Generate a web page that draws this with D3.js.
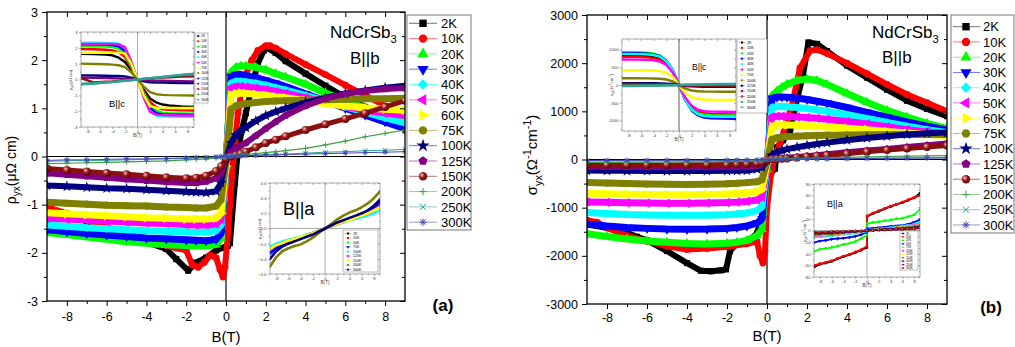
<!DOCTYPE html>
<html>
<head>
<meta charset="utf-8">
<script src="https://cdn.jsdelivr.net/npm/d3@7"></script>
<style>
body { margin: 0; background: #fff; }
svg { display: block; font-family: "Liberation Sans", Arial, sans-serif; }
</style>
</head>
<body>
<svg id="fig" width="1015" height="347"></svg>
<script>
// ---------- labels and ticks ----------
var temps = ["2K","10K","20K","30K","40K","50K","60K","75K","100K","125K","150K","200K","250K","300K"];
var tempsC = ["2K","10K","20K","30K","40K","50K","75K","100K","125K","150K","200K","250K","300K"];
var tempsRhoA = ["2K","20K","50K","75K","100K","125K","150K","200K","300K"];
var tempsSigA = ["2K","10K","20K","50K","75K","100K","125K","150K","200K","250K","300K"];

var fieldTicks = [-8,-6,-4,-2,0,2,4,6,8];
var rhoTicks = [-3,-2,-1,0,1,2,3];
var sigTicks = [-3000,-2000,-1000,0,1000,2000,3000];
var rhoATicks = [-0.6,-0.4,-0.2,0,0.2,0.4,0.6];
var sigCTicks = [-1000,-500,0,500,1000];
var sigATicks = [-80,-60,-40,-20,0,20,40,60,80];

// ---------- main panel (a): rho_yx, B||b ----------
var fieldB = [-9,-8,-7,-6,-5,-4,-3,-2,-1.5,-1,-0.5,-0.25,0,0.25,0.5,0.75,1,1.5,2,2.5,3,4,5,6,7,8,9];

var rhoB2K = [-9,-8,-7,-6,-5,-4,-3,-2.5,-1.9,-1.5,-1,-0.5,-0.2,0.1,0.2,0.3,0.45,0.6,0.8,1,1.3,1.6,1.9,2.1,2.5,3,4,5,6,7,8,9];
var rho2K = [-1.08,-1.2,-1.35,-1.5,-1.64,-1.78,-1.92,-2.13,-2.37,-2.2,-2.1,-1.95,-1.9,-1.85,-1.8,-1.27,-0.54,0.12,0.55,0.9,1.45,1.93,2.2,2.25,2.15,1.98,1.72,1.47,1.23,1.03,0.88,0.75];
var rhoB10K = [-9,-8,-7,-6,-5,-4,-3,-2.5,-2,-1.7,-1.4,-1.1,-0.8,-0.5,-0.3,-0.15,-0.05,0.1,0.2,0.3,0.45,0.6,0.8,1,1.3,1.6,2,2.2,2.5,3,4,5,6,7,8,9];
var rho10K = [-1.05,-1.18,-1.32,-1.46,-1.6,-1.73,-1.85,-1.9,-1.95,-2.25,-2.3,-2.2,-2.05,-2.1,-2.35,-2.5,-2.3,-1.6,-1.0,-0.4,0.3,0.9,1.4,1.7,2.0,2.2,2.3,2.3,2.25,2.13,1.91,1.7,1.48,1.27,1.05,0.84];

// 20K ... 300K on fieldB
var rhoBB = [
  [-1.58,-1.62,-1.67,-1.72,-1.77,-1.8,-1.83,-1.85,-1.86,-1.86,-1.83,-1.7,-0.2,1.75,1.85,1.88,1.88,1.85,1.8,1.72,1.65,1.5,1.32,1.16,1.0,0.87,0.75],
  [-1.52,-1.56,-1.6,-1.63,-1.66,-1.69,-1.71,-1.73,-1.74,-1.75,-1.72,-1.6,-0.2,1.66,1.7,1.7,1.68,1.64,1.58,1.52,1.45,1.3,1.15,1.0,0.86,0.72,0.58],
  [-1.42,-1.45,-1.48,-1.5,-1.52,-1.54,-1.55,-1.56,-1.57,-1.57,-1.54,-1.42,-0.2,1.52,1.56,1.56,1.55,1.52,1.48,1.43,1.38,1.27,1.15,1.03,0.92,0.8,0.7],
  [-1.28,-1.3,-1.32,-1.34,-1.36,-1.38,-1.39,-1.41,-1.42,-1.42,-1.4,-1.3,-0.2,1.42,1.45,1.45,1.44,1.42,1.39,1.35,1.31,1.22,1.13,1.04,0.96,0.9,0.85],
  [-1.17,-1.19,-1.21,-1.23,-1.25,-1.27,-1.28,-1.3,-1.3,-1.3,-1.28,-1.18,-0.2,1.28,1.31,1.32,1.31,1.29,1.27,1.24,1.22,1.16,1.1,1.05,1.01,0.98,0.96],
  [-0.95,-0.97,-0.99,-1.01,-1.02,-1.03,-1.05,-1.06,-1.07,-1.07,-1.03,-0.9,-0.1,0.98,1.05,1.08,1.1,1.12,1.14,1.15,1.16,1.17,1.18,1.19,1.2,1.2,1.21],
  [-0.6,-0.62,-0.64,-0.66,-0.67,-0.69,-0.71,-0.73,-0.74,-0.75,-0.72,-0.55,-0.05,0.28,0.45,0.54,0.6,0.74,0.85,0.93,1.0,1.12,1.22,1.31,1.37,1.43,1.47],
  [-0.35,-0.38,-0.41,-0.44,-0.47,-0.5,-0.53,-0.55,-0.55,-0.52,-0.45,-0.35,-0.05,0.1,0.18,0.23,0.28,0.43,0.58,0.72,0.85,1.05,1.2,1.3,1.36,1.4,1.42],
  [-0.25,-0.28,-0.31,-0.34,-0.37,-0.4,-0.43,-0.45,-0.44,-0.4,-0.3,-0.2,-0.05,0.0,0.03,0.06,0.1,0.19,0.28,0.35,0.42,0.55,0.67,0.78,0.9,1.03,1.16],
  [-0.15,-0.14,-0.13,-0.12,-0.11,-0.1,-0.09,-0.07,-0.06,-0.05,-0.03,-0.02,0,0.01,0.02,0.03,0.04,0.06,0.08,0.1,0.12,0.17,0.24,0.32,0.41,0.48,0.55],
  [-0.1,-0.09,-0.08,-0.08,-0.07,-0.06,-0.05,-0.04,-0.03,-0.02,-0.01,-0.01,0,0.01,0.01,0.02,0.02,0.03,0.04,0.05,0.05,0.07,0.09,0.1,0.12,0.13,0.15],
  [-0.08,-0.07,-0.07,-0.06,-0.05,-0.05,-0.04,-0.03,-0.02,-0.02,-0.01,0,0,0,0.01,0.01,0.02,0.02,0.03,0.03,0.04,0.05,0.06,0.07,0.08,0.09,0.1]
];

// ---------- main panel (b): sigma_yx, B||b ----------
var sigB2K = [-9,-8,-7,-6.5,-6,-5,-4,-3.3,-2.8,-2.3,-2.05,-1.85,-1.5,-1,-0.5,-0.17,0,0.17,0.4,0.5,0.8,1.15,1.5,1.8,2.07,2.5,3,4,5,6,7,8,9];
var sig2K = [-1350,-1420,-1520,-1605,-1680,-1900,-2150,-2310,-2320,-2300,-2280,-1900,-1740,-1710,-1536,-1050,-570,-290,-190,250,400,570,1250,1750,2430,2400,2250,1950,1700,1450,1220,1050,900];
var sigB10K = [-9,-8.5,-8,-7,-6,-5,-4,-3,-2,-1,-0.5,-0.35,-0.2,-0.1,0,0.2,0.4,0.65,1,1.3,1.65,2.15,2.5,3,4,5,6,7,8,9];
var sig10K = [-1260,-1300,-1420,-1580,-1700,-1800,-1870,-1850,-1810,-1750,-1700,-2000,-2150,-1900,-1000,-300,100,330,800,1220,1900,2260,2280,2200,2000,1780,1560,1350,1180,1000];

var sigBB = [
  [-1540,-1600,-1650,-1690,-1720,-1745,-1755,-1740,-1720,-1680,-1580,-1450,-200,1320,1420,1500,1560,1640,1670,1640,1560,1370,1190,1020,880,750,640],
  [-1340,-1380,-1410,-1430,-1445,-1450,-1445,-1430,-1410,-1380,-1320,-1230,-150,1270,1295,1300,1295,1275,1245,1210,1170,1080,980,880,780,690,610],
  [-1100,-1120,-1140,-1150,-1155,-1160,-1155,-1145,-1130,-1110,-1060,-980,-120,1080,1100,1100,1095,1080,1060,1030,1000,930,850,770,690,620,560],
  [-880,-890,-900,-905,-910,-910,-905,-895,-885,-870,-840,-780,-100,880,900,900,895,885,870,855,835,790,740,680,620,570,530],
  [-700,-710,-720,-725,-730,-730,-725,-715,-705,-695,-670,-620,-80,690,710,715,715,710,700,690,680,650,620,580,550,520,500],
  [-480,-490,-500,-510,-515,-520,-515,-505,-495,-480,-460,-420,-50,420,450,465,475,485,495,500,505,510,515,518,520,520,520],
  [-230,-233,-236,-238,-240,-240,-238,-235,-232,-228,-200,-160,-20,90,150,190,215,255,290,320,350,400,445,485,520,545,560],
  [-150,-152,-154,-155,-156,-156,-155,-153,-150,-145,-130,-100,-10,15,25,30,35,50,70,90,110,150,185,220,260,295,330],
  [-110,-111,-112,-112,-112,-110,-108,-105,-100,-95,-80,-60,-5,5,10,15,20,40,60,75,90,120,160,195,230,260,290],
  [-60,-58,-56,-54,-52,-50,-47,-44,-41,-38,-30,-20,0,5,8,10,12,18,24,30,35,45,55,62,70,75,80],
  [-30,-29,-28,-27,-26,-25,-23,-21,-19,-17,-12,-8,0,3,5,6,7,10,13,16,18,24,28,32,35,38,40],
  [-20,-19,-18,-17,-16,-15,-14,-13,-12,-10,-7,-5,0,2,3,4,5,7,9,11,13,17,20,23,26,28,30]
];

// ---------- insets ----------
var fieldC = [-9,-7,-5,-4,-3,-2,-1,-0.5,0,0.5,1,2,3,4,5,7,9];
var rhoC = [
  [1.62,1.61,1.58,1.52,1.38,1.1,0.6,0.3,0,-0.3,-0.65,-1.2,-1.45,-1.58,-1.64,-1.7,-1.73],
  [1.92,1.91,1.88,1.84,1.72,1.42,0.75,0.38,0,-0.38,-0.75,-1.42,-1.75,-1.88,-1.92,-1.95,-1.96],
  [2.1,2.1,2.08,2.05,1.95,1.6,0.85,0.42,0,-0.42,-0.85,-1.62,-1.98,-2.1,-2.13,-2.15,-2.16],
  [2.22,2.22,2.2,2.18,2.1,1.8,0.95,0.48,0,-0.48,-0.95,-1.8,-2.12,-2.2,-2.22,-2.23,-2.24],
  [2.32,2.32,2.31,2.3,2.26,2.0,1.05,0.52,0,-0.52,-1.05,-2.0,-2.28,-2.33,-2.34,-2.35,-2.36],
  [2.25,2.25,2.24,2.24,2.22,2.05,1.15,0.55,0,-0.55,-1.15,-2.05,-2.22,-2.25,-2.26,-2.27,-2.27],
  [1.68,1.68,1.69,1.7,1.7,1.65,1.0,0.5,0,-0.5,-1.0,-1.7,-1.78,-1.79,-1.8,-1.8,-1.8],
  [1.0,0.98,0.96,0.94,0.9,0.78,0.45,0.23,0,-0.23,-0.45,-0.8,-0.93,-0.97,-0.99,-1.0,-1.01],
  [0.26,0.25,0.24,0.23,0.22,0.2,0.12,0.06,0,-0.06,-0.12,-0.17,-0.19,-0.2,-0.21,-0.22,-0.22],
  [0.12,0.1,0.09,0.08,0.07,0.05,0.03,0.01,0,-0.01,-0.03,-0.05,-0.07,-0.08,-0.09,-0.1,-0.12],
  [0.08,-0.18,-0.14,-0.12,-0.09,-0.06,-0.03,-0.01,0,0.02,0.04,0.08,0.1,0.12,0.14,0.18,0.2],
  [-0.3,-0.25,-0.19,-0.16,-0.12,-0.08,-0.04,-0.02,0,0.02,0.04,0.08,0.12,0.16,0.2,0.28,0.34],
  [-0.28,-0.24,-0.18,-0.15,-0.12,-0.08,-0.04,-0.02,0,0.02,0.04,0.08,0.12,0.16,0.21,0.29,0.36]
];
var sigC = [
  [830,825,810,790,740,620,380,200,0,-200,-380,-640,-760,-820,-845,-858,-862],
  [800,796,782,762,715,600,370,195,0,-195,-370,-620,-735,-795,-818,-828,-832],
  [930,925,910,885,830,690,420,220,0,-220,-420,-690,-800,-840,-852,-858,-860],
  [900,897,885,865,815,690,430,225,0,-225,-430,-720,-860,-920,-940,-948,-952],
  [880,877,866,848,800,680,425,222,0,-222,-425,-700,-830,-880,-895,-900,-902],
  [720,718,710,695,660,570,360,190,0,-190,-360,-590,-700,-740,-752,-758,-760],
  [420,419,415,408,392,345,230,120,0,-120,-230,-345,-392,-410,-416,-419,-420],
  [190,189,187,183,175,155,105,55,0,-55,-105,-155,-175,-184,-187,-189,-190],
  [50,50,49,48,46,40,27,14,0,-14,-27,-40,-46,-48,-49,-50,-50],
  [20,20,19,19,18,16,11,6,0,-6,-11,-16,-18,-19,-19,-20,-20],
  [30,28,25,23,20,16,10,5,0,-5,-10,-16,-20,-23,-25,-28,-30],
  [-20,-18,-15,-13,-11,-8,-5,-2,0,2,5,8,11,13,15,18,20],
  [-30,-27,-22,-19,-16,-12,-7,-3,0,3,7,12,16,19,22,27,30]
];
var fieldRA = [-9,-8,-7,-6,-5,-4,-3,-2,-1,0,1,2,3,4,5,6,7,8,9];
var rhoA = [
  [-0.3,-0.24,-0.2,-0.17,-0.15,-0.12,-0.09,-0.06,-0.03,0,0.03,0.06,0.09,0.12,0.15,0.18,0.21,0.26,0.32],
  [-0.3,-0.25,-0.21,-0.18,-0.15,-0.12,-0.09,-0.06,-0.03,0,0.03,0.06,0.09,0.12,0.15,0.18,0.22,0.27,0.33],
  [-0.31,-0.25,-0.21,-0.18,-0.16,-0.13,-0.1,-0.07,-0.03,0,0.03,0.07,0.1,0.13,0.16,0.19,0.22,0.27,0.34],
  [-0.33,-0.26,-0.22,-0.19,-0.16,-0.13,-0.1,-0.07,-0.035,0,0.035,0.07,0.1,0.13,0.16,0.19,0.22,0.27,0.35],
  [-0.24,-0.2,-0.17,-0.15,-0.13,-0.11,-0.08,-0.06,-0.03,0,0.03,0.06,0.08,0.11,0.13,0.15,0.17,0.2,0.24],
  [-0.28,-0.22,-0.19,-0.17,-0.14,-0.12,-0.09,-0.06,-0.03,0,0.03,0.06,0.09,0.12,0.14,0.17,0.2,0.24,0.3],
  [-0.27,-0.22,-0.19,-0.16,-0.14,-0.11,-0.09,-0.06,-0.03,0,0.03,0.06,0.09,0.11,0.14,0.17,0.2,0.24,0.28],
  [-0.5,-0.38,-0.3,-0.26,-0.23,-0.21,-0.17,-0.12,-0.06,0,0.06,0.12,0.17,0.21,0.24,0.28,0.33,0.4,0.49],
  [-0.4,-0.3,-0.24,-0.2,-0.17,-0.14,-0.11,-0.08,-0.04,0,0.04,0.08,0.11,0.14,0.17,0.2,0.24,0.3,0.38]
];
var fieldSA = [-9,-8,-7,-6,-5,-4,-3,-2,-1,-0.02,0.02,1,2,3,4,5,6,7,8,9];
var sigA = [
  [-63,-58,-56,-53,-49,-45,-42,-38,-34,-29,24,29,33,37,41,45,48,52,56,64],
  [-60,-57,-55,-52,-48,-44,-41,-37,-33,-27,25,30,34,38,42,45,49,53,57,60],
  [-36,-32,-31,-29,-27,-24,-22,-19,-14,-8,12,14,15,17,18,20,21,24,27,36],
  [-21,-18,-17,-15,-14,-13,-12,-10,-7,-3,3,4,5,6,7,8,9,11,14,19],
  [-12,-11,-10,-9,-8,-7,-6,-5,-3,-1,1,2,3,4,5,6,8,9,11,14],
  [-10,-9,-8,-7,-6,-5,-4,-3,-2,0,0,1,2,3,4,5,6,8,9,11],
  [-9,-8,-7,-6,-5,-5,-4,-3,-2,0,0,1,2,3,4,5,6,7,8,10],
  [-8,-7,-6,-6,-5,-4,-3,-2,-1,0,0,1,2,3,3,4,5,6,7,9],
  [-5,-5,-4,-4,-3,-3,-2,-2,-1,0,0,1,1,2,2,3,3,4,5,6],
  [-4,-4,-3,-3,-3,-2,-2,-1,-1,0,0,1,1,1,2,2,3,3,4,5],
  [-3,-3,-3,-2,-2,-2,-1,-1,-1,0,0,0,1,1,1,2,2,3,3,4]
];

// ---------- styles (Origin colour/symbol order) ----------
var colors = ["#000000","#ff0000","#00ff00","#0000ff","#00ffff","#ff00ff","#ffff00","#808000","#000080","#800080","#800000","#3f9f3f","#2f9f9f","#4646b4"];
var shapes = ["square","circle","tri","tri","square","tri","tri","circle","star","penta","ball","plus","times","aster"];
var turns = [0,0,0,180,45,-90,90,0,0,0,0,0,0,0];
// band width / marker size of the dense main-panel traces
var bandWidth = [6,6,7,7,7,7,7,7,6,6,5,1.2,1,1];
var markSize = [38,38,40,40,34,40,40,40,40,40,50,32,30,30];

var pentagon = { draw: function(c, s) {
  var r = Math.sqrt(s / 2.4);
  for (var k = 0; k < 5; k++) {
    var a = -Math.PI / 2 + k * 2 * Math.PI / 5;
    if (k) c.lineTo(r * Math.cos(a), r * Math.sin(a)); else c.moveTo(r * Math.cos(a), r * Math.sin(a));
  }
  c.closePath();
}};
var plusT = { draw: function(c, s) { var r = Math.sqrt(s) / 2; c.moveTo(-r, 0); c.lineTo(r, 0); c.moveTo(0, -r); c.lineTo(0, r); } };
var timesT = { draw: function(c, s) { var r = Math.sqrt(s) / 2.4; c.moveTo(-r, -r); c.lineTo(r, r); c.moveTo(-r, r); c.lineTo(r, -r); } };
var asterT = { draw: function(c, s) {
  var r = Math.sqrt(s) / 2;
  c.moveTo(-r, 0); c.lineTo(r, 0); c.moveTo(0, -r); c.lineTo(0, r);
  var q = r * 0.7; c.moveTo(-q, -q); c.lineTo(q, q); c.moveTo(-q, q); c.lineTo(q, -q);
}};
var symTypes = { square: d3.symbolSquare, circle: d3.symbolCircle, tri: d3.symbolTriangle, star: d3.symbolStar,
  penta: pentagon, ball: d3.symbolCircle, plus: plusT, times: timesT, aster: asterT };

var svg = d3.select("#fig");
var defs = svg.append("defs");
var grad = defs.append("radialGradient").attr("id", "ball").attr("cx", "35%").attr("cy", "35%").attr("r", "70%");
grad.append("stop").attr("offset", "0%").attr("stop-color", "#f2c8c8");
grad.append("stop").attr("offset", "45%").attr("stop-color", "#a01c1c");
grad.append("stop").attr("offset", "100%").attr("stop-color", "#5a0000");

function styleMarker(sel, i, size) {
  var shp = shapes[i];
  var stroked = shp === "plus" || shp === "times" || shp === "aster";
  sel.attr("d", d3.symbol().type(symTypes[shp]).size(size))
    .attr("fill", stroked ? "none" : (shp === "ball" ? "url(#ball)" : colors[i]))
    .attr("stroke", stroked ? colors[i] : "none")
    .attr("stroke-width", stroked ? 1 : 0);
}

function minors(lo, hi, step, major) {
  return d3.range(lo, hi + step / 2, step).filter(function(v) {
    return !major.some(function(m) { return Math.abs(m - v) < step / 10; });
  });
}

function axesBox(g, x, y, o) {
  var xr = x.range(), yr = y.range();
  function ax(gen, tr, vals, size, lab, pad) {
    var a = g.append("g").attr("transform", tr)
      .call(gen.tickValues(vals).tickSize(size).tickSizeOuter(0).tickPadding(pad || 3)
        .tickFormat(lab ? (o.fmt || String) : function() { return ""; }));
    a.select(".domain").remove();
    a.selectAll("line").attr("stroke", o.stroke).attr("stroke-width", o.sw);
    a.attr("font-family", null).attr("font-size", o.font);
    a.selectAll("text").attr("fill", o.text || "#000");
    return a;
  }
  var yfmt = o.yfmt || o.fmt || String;
  ax(d3.axisBottom(x), "translate(0," + yr[0] + ")", o.xMajor, o.major, true, o.padX);
  ax(d3.axisBottom(x), "translate(0," + yr[0] + ")", o.xMinor, o.minor, false);
  var ly = ax(d3.axisLeft(y), "translate(" + xr[0] + ",0)", o.yMajor, o.major, false, o.padY);
  ly.selectAll("text").text(function(d) { return yfmt(d); });
  ax(d3.axisLeft(y), "translate(" + xr[0] + ",0)", o.yMinor, o.minor, false);
  ax(d3.axisTop(x), "translate(0," + yr[1] + ")", o.xMajor, -o.major, false);
  ax(d3.axisTop(x), "translate(0," + yr[1] + ")", o.xMinor, -o.minor, false);
  ax(d3.axisRight(y), "translate(" + xr[1] + ",0)", o.yMajor, -o.major, false);
  ax(d3.axisRight(y), "translate(" + xr[1] + ",0)", o.yMinor, -o.minor, false);
  g.append("rect").attr("x", xr[0]).attr("y", yr[1]).attr("width", xr[1] - xr[0]).attr("height", yr[0] - yr[1])
    .attr("fill", "none").attr("stroke", o.stroke).attr("stroke-width", o.frame || o.sw);
}

function drawCurves(g, x, y, series, band, msize) {
  series.forEach(function(s, i) {
    var bs = s[0], vals = s[1];
    var line = d3.line().x(function(d, k) { return x(bs[k]); }).y(function(d) { return y(d); });
    g.append("path").attr("d", line(vals)).attr("fill", "none")
      .attr("stroke", shapes[i] === "ball" ? "#8a1010" : colors[i]).attr("stroke-width", band ? band : bandWidth[i])
      .attr("stroke-linejoin", "round").attr("stroke-linecap", "round");
    var ms = msize === undefined ? markSize[i] : msize;
    if (ms) {
      g.append("g").selectAll("path").data(vals).join("path")
        .attr("transform", function(d, k) { return "translate(" + x(bs[k]) + "," + y(d) + ") rotate(" + turns[i] + ")"; })
        .call(styleMarker, i, ms);
    }
  });
}

function legend(labels, o) {
  var g = svg.append("g");
  g.append("rect").attr("x", o.x).attr("y", o.y).attr("width", o.w).attr("height", o.h)
    .attr("fill", "#fff").attr("stroke", o.stroke || "#777").attr("stroke-width", o.sw || 1);
  labels.forEach(function(t, i) {
    var yy = o.y0 + i * o.step;
    g.append("line").attr("x1", o.lx[0]).attr("x2", o.lx[1]).attr("y1", yy).attr("y2", yy)
      .attr("stroke", colors[i]).attr("stroke-opacity", 0.55).attr("stroke-width", o.lw || 1);
    g.append("path").attr("transform", "translate(" + o.mx + "," + yy + ") rotate(" + turns[i] + ")").call(styleMarker, i, o.ms);
    g.append("text").attr("x", o.tx).attr("y", yy).attr("dy", "0.36em").attr("font-size", o.font).text(t);
  });
}

function richText(x, y, size, parts, rot, anchor) {
  var t = svg.append("text").attr("transform", "translate(" + x + "," + y + ")" + (rot ? " rotate(-90)" : ""))
    .attr("text-anchor", anchor || "middle").attr("font-size", size);
  var cur = 0;
  parts.forEach(function(p) {
    var off = p[1] === "sub" ? 0.3 * size : p[1] === "sup" ? -0.38 * size : 0;
    t.append("tspan").attr("dy", off - cur).attr("font-size", p[1] ? size * 0.72 : size).text(p[0]);
    cur = off;
  });
  return t;
}

var rhoLabel = [["ρ"], ["yx", "sub"], ["(μΩ cm)"]];
var sigLabel = [["σ"], ["yx", "sub"], ["(Ω"], ["-1", "sup"], ["cm"], ["-1", "sup"], [")"]];

function mainPanel(o) {
  var x = d3.scaleLinear().domain([-9, 9]).range([o.left, o.right]);
  var y = d3.scaleLinear().domain(o.yDomain).range([o.bottom, o.top]);
  var g = svg.append("g");
  defs.append("clipPath").attr("id", o.id).append("rect")
    .attr("x", o.left).attr("y", o.top).attr("width", o.right - o.left).attr("height", o.bottom - o.top);
  g.append("line").attr("x1", x(0)).attr("x2", x(0)).attr("y1", o.top).attr("y2", o.bottom).attr("stroke", "#000").attr("stroke-width", 1.2);
  g.append("line").attr("x1", o.left).attr("x2", o.right).attr("y1", y(0)).attr("y2", y(0)).attr("stroke", "#000").attr("stroke-width", 1);
  drawCurves(g.append("g").attr("clip-path", "url(#" + o.id + ")"), x, y, o.series, 0);
  return { g: g, x: x, y: y };
}

function inset(o) {
  var x = d3.scaleLinear().domain([-9, 9]).range([o.left, o.right]);
  var y = d3.scaleLinear().domain(o.yDomain).range([o.bottom, o.top]);
  var g = svg.append("g");
  g.append("rect").attr("x", o.left).attr("y", o.top).attr("width", o.right - o.left).attr("height", o.bottom - o.top).attr("fill", "#fff");
  defs.append("clipPath").attr("id", o.id).append("rect")
    .attr("x", o.left).attr("y", o.top).attr("width", o.right - o.left).attr("height", o.bottom - o.top);
  g.append("line").attr("x1", x(0)).attr("x2", x(0)).attr("y1", o.top).attr("y2", o.bottom).attr("stroke", "#999").attr("stroke-width", o.vz || 0.8);
  if (o.hzero) g.append("line").attr("x1", o.left).attr("x2", o.right).attr("y1", y(0)).attr("y2", y(0)).attr("stroke", "#999").attr("stroke-width", 0.8);
  drawCurves(g.append("g").attr("clip-path", "url(#" + o.id + ")"), x, y, o.series, o.band, o.ms);
  axesBox(g, x, y, { xMajor: fieldTicks, xMinor: minors(-8, 8, 1, fieldTicks), yMajor: o.yMajor, yMinor: o.yMinor,
    major: 2, minor: 1.2, font: 4.2, stroke: "#555", sw: 0.5, text: "#444", padX: 1.5, padY: 1.5, yfmt: o.yfmt });
  return { x: x, y: y };
}

// ---------- panel (a) ----------
var rhoSeries = [[rhoB2K, rho2K], [rhoB10K, rho10K]].concat(rhoBB.map(function(v) { return [fieldB, v]; }));
var pa = mainPanel({ id: "clipA", left: 47, right: 405, top: 12, bottom: 301, yDomain: [-3, 3], series: rhoSeries });

inset({ id: "clipAc", left: 81, right: 194, top: 32, bottom: 127, yDomain: [-3, 3],
  yMajor: rhoTicks, yMinor: minors(-2.5, 2.5, 0.5, rhoTicks), band: 2.4, ms: 0,
  series: rhoC.map(function(v) { return [fieldC, v]; }) });
inset({ id: "clipAa", left: 270, right: 380, top: 183, bottom: 274, yDomain: [-0.6, 0.6], hzero: true,
  yMajor: rhoATicks, yMinor: minors(-0.5, 0.5, 0.1, rhoATicks), band: 2.6, ms: 0, yfmt: d3.format(".1f"),
  series: rhoA.map(function(v) { return [fieldRA, v]; }) });

axesBox(pa.g, pa.x, pa.y, { xMajor: fieldTicks, xMinor: minors(-8, 8, 1, fieldTicks), yMajor: rhoTicks,
  yMinor: minors(-2.5, 2.5, 0.5, rhoTicks), major: 5, minor: 3, font: 12.5, stroke: "#000", sw: 1, frame: 1.3, padX: 6, padY: 4 });

// ---------- panel (b) ----------
var sigSeries = [[sigB2K, sig2K], [sigB10K, sig10K]].concat(sigBB.map(function(v) { return [fieldB, v]; }));
var pb = mainPanel({ id: "clipB", left: 587, right: 947, top: 15, bottom: 304, yDomain: [-3000, 3000], series: sigSeries });

inset({ id: "clipBc", left: 622, right: 736, top: 39, bottom: 131, yDomain: [-1300, 1300], vz: 1.6,
  yMajor: sigCTicks, yMinor: minors(-1250, 1250, 250, sigCTicks), band: 2.4, ms: 0,
  series: sigC.map(function(v) { return [fieldC, v]; }) });
inset({ id: "clipBa", left: 814, right: 920, top: 184, bottom: 277, yDomain: [-80, 80], hzero: true,
  yMajor: sigATicks, yMinor: minors(-70, 70, 10, sigATicks), band: 1.8, ms: 6,
  series: sigA.map(function(v) { return [fieldSA, v]; }) });

axesBox(pb.g, pb.x, pb.y, { xMajor: fieldTicks, xMinor: minors(-8, 8, 1, fieldTicks), yMajor: sigTicks,
  yMinor: minors(-2500, 2500, 500, sigTicks), major: 5, minor: 3, font: 12.5, stroke: "#000", sw: 1, frame: 1.3, padX: 4, padY: 4 });

// ---------- legends ----------
legend(temps, { x: 407, y: 15, w: 64, h: 215, y0: 23.3, step: 15.3, lx: [409, 437], mx: 423, tx: 441, ms: 55, font: 13 });
legend(temps, { x: 951, y: 15, w: 63, h: 218, y0: 26.7, step: 15.25, lx: [953, 980], mx: 966, tx: 983, ms: 55, font: 13 });
legend(tempsC, { x: 195, y: 33, w: 13, h: 70, y0: 36, step: 5.3, lx: [196, 200.5], mx: 198.2, tx: 201.3, ms: 3, font: 3.2, sw: 0.5, lw: 0.6 });
legend(tempsRhoA, { x: 343, y: 230, w: 35, h: 42, y0: 233.5, step: 4.5, lx: [345, 351], mx: 348, tx: 353, ms: 4, font: 3.6, sw: 0.5, lw: 0.6 });
legend(tempsC, { x: 737, y: 39, w: 30, h: 74, y0: 42.5, step: 5.4, lx: [739, 745], mx: 742, tx: 747, ms: 4, font: 3.8, sw: 0.5, lw: 0.6 });
legend(tempsSigA, { x: 900, y: 231, w: 18, h: 39, y0: 233.5, step: 3.45, lx: [901, 905], mx: 903, tx: 906, ms: 2.5, font: 2.9, sw: 0.5, lw: 0.6 });

// ---------- texts ----------
function compound(xp, yp, size) {
  var t = svg.append("text").attr("x", xp).attr("y", yp).attr("font-size", size);
  t.append("tspan").text("NdCrSb");
  t.append("tspan").attr("dy", size * 0.28).attr("font-size", size * 0.66).text("3");
}
compound(330, 38, 17);
compound(872, 38, 17);
svg.append("text").attr("x", 350).attr("y", 64).attr("font-size", 17).text("B||b");
svg.append("text").attr("x", 882).attr("y", 63).attr("font-size", 17).text("B||b");
svg.append("text").attr("x", 443).attr("y", 311).attr("text-anchor", "middle").attr("font-size", 17).attr("font-weight", "bold").text("(a)");
svg.append("text").attr("x", 991).attr("y", 313).attr("text-anchor", "middle").attr("font-size", 17).attr("font-weight", "bold").text("(b)");
svg.append("text").attr("x", 226).attr("y", 342).attr("text-anchor", "middle").attr("font-size", 15).text("B(T)");
svg.append("text").attr("x", 767).attr("y", 341).attr("text-anchor", "middle").attr("font-size", 15).text("B(T)");
richText(16, 170, 14, rhoLabel, true);
richText(537, 155, 15, sigLabel, true);

// inset captions and axis titles
svg.append("text").attr("x", 109).attr("y", 107).attr("font-size", 9.5).text("B||c");
svg.append("text").attr("x", 283).attr("y", 215).attr("font-size", 18).text("B||a");
svg.append("text").attr("x", 692).attr("y", 70).attr("font-size", 8.5).text("B||c");
svg.append("text").attr("x", 827).attr("y", 207).attr("font-size", 9).text("B||a");
[[137.5, 137], [325, 284], [679, 141], [867, 287]].forEach(function(p) {
  svg.append("text").attr("x", p[0]).attr("y", p[1]).attr("text-anchor", "middle").attr("font-size", 4.6).attr("fill", "#444").text("B(T)");
});
richText(72, 80, 4.2, rhoLabel, true).attr("fill", "#444");
richText(261, 229, 4.2, rhoLabel, true).attr("fill", "#444");
richText(613, 85, 4.2, sigLabel, true).attr("fill", "#444");
richText(806, 231, 4.2, sigLabel, true).attr("fill", "#444");
</script>
</body>
</html>
